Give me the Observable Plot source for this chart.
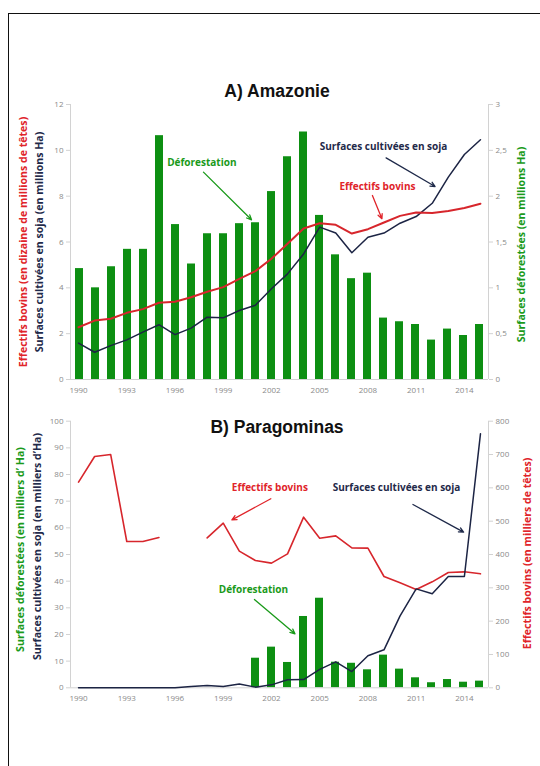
<!DOCTYPE html>
<html><head><meta charset="utf-8">
<script src="https://cdn.jsdelivr.net/npm/d3@7"></script>
<script src="https://cdn.jsdelivr.net/npm/@observablehq/plot@0.6"></script>
<style>
body{margin:0;background:#fff;}
#page{position:relative;width:540px;height:766px;overflow:hidden;background:#fff;}
#border{position:absolute;left:8px;top:13px;width:600px;height:800px;border-top:1.5px solid #111;border-left:1.5px solid #111;}
.title{position:absolute;left:0;width:554px;text-align:center;font:bold 17.5px "Liberation Sans",Arial,sans-serif;line-height:18px;color:#111;}
</style></head><body>
<div id="page"><div id="border"></div>
<div class="title" style="top:82px">A) Amazonie</div>
</div>
<script>
// ---------- DATA ----------
const years = [1990,1991,1992,1993,1994,1995,1996,1997,1998,1999,2000,2001,2002,2003,2004,2005,2006,2007,2008,2009,2010,2011,2012,2013,2014,2015];
const xTicks = [1990,1993,1996,1999,2002,2005,2008,2011,2014];

// A) Amazonie
const amzDeforest = [1.21,1.00,1.23,1.42,1.42,2.66,1.69,1.26,1.59,1.59,1.70,1.71,2.05,2.43,2.70,1.79,1.36,1.10,1.16,0.67,0.63,0.60,0.43,0.55,0.48,0.60]; // millions ha
const amzCattle = [2.28,2.57,2.65,2.91,3.07,3.35,3.39,3.59,3.83,4.03,4.39,4.73,5.27,5.92,6.59,6.82,6.75,6.37,6.56,6.85,7.14,7.29,7.27,7.35,7.48,7.67]; // x10 M heads
const amzSoy = [1.59,1.19,1.48,1.73,2.07,2.39,1.96,2.24,2.72,2.69,3.01,3.24,3.96,4.61,5.48,6.65,6.39,5.53,6.21,6.39,6.82,7.11,7.69,8.83,9.82,10.46]; // millions ha
const amzLeftTicks = [0,2,4,6,8,10,12];
const amzRightTicks = [0,0.5,1,1.5,2,2.5,3];

// B) Paragominas
const parDeforest = [null,null,null,null,null,null,null,null,null,null,null,11.1,15.25,9.5,26.75,33.6,9.6,9.2,6.75,12.25,7.0,3.75,1.9,3.1,2.1,2.5]; // thousand ha
const parCattle = [617,694,700,439,439,451,null,null,450,494,410,382,374,402,512,449,456,420,419,334,315,295,318,346,348,342]; // thousand heads
const parSoy = [0,0,0,0,0,0,0,0.5,0.9,0.5,1.4,0.25,1.1,3.0,3.1,6.9,9.75,6.1,12.0,14.25,27.0,37.1,35.25,41.75,41.75,95.25]; // thousand ha
const parLeftTicks = [0,10,20,30,40,50,60,70,80,90,100];
const parRightTicks = [0,100,200,300,400,500,600,700,800];

// ---------- STYLE ----------
const GREEN = "#0d8f12", GREEN_T = "#1a9a1a", RED = "#d7262c", RED_T = "#e0242a", NAVY = "#1c2444", NAVY_T = "#1f2a4a";
const AXIS = "#d2d2d2", TICK = "#8a8a8a";
const FONT = "'Open Sans', sans-serif";

// annotations (data coordinates: year, left-axis value)
const annA = [
  {text:"Déforestation", x:1997.67, y:9.47, x1:1997.77, y1:9.05, x2:2000.76, y2:6.97, c:GREEN_T},
  {text:"Surfaces cultivées en soja", x:2008.97, y:10.14, x1:2009.13, y1:9.67, x2:2012.18, y2:8.42, c:NAVY_T},
  {text:"Effectifs bovins", x:2008.59, y:8.39, x1:2008.28, y1:8.03, x2:2008.87, y2:7.01, c:RED_T}
];
const annB = [
  {text:"Effectifs bovins", x:2001.9, y:74.9, x1:2001.96, y1:70.9, x2:1999.54, y2:63.0, c:RED_T},
  {text:"Surfaces cultivées en soja", x:2009.78, y:74.9, x1:2010.8, y1:68.75, x2:2013.95, y2:58.4, c:NAVY_T},
  {text:"Déforestation", x:2000.88, y:36.76, x1:2000.94, y1:33.1, x2:2003.46, y2:20.25, c:GREEN_T}
];

const amz = years.map((year, i) => ({year, deforest: amzDeforest[i], cattle: amzCattle[i], soy: amzSoy[i]}));
const par = years.map((year, i) => ({year, deforest: parDeforest[i], cattle: parCattle[i], soy: parSoy[i]}));

const page = document.getElementById("page");
function add(svg, top) {
  svg.style.position = "absolute"; svg.style.left = "0px"; svg.style.top = top + "px";
  page.appendChild(svg);
}
const common = (h, mt, mb) => ({
  width: 540, height: h, marginTop: mt, marginBottom: mb, marginLeft: 70, marginRight: 52,
  style: {background: "transparent", fontFamily: FONT, fontSize: "8px", overflow: "visible"}
});
const xBand = {type: "band", domain: years, paddingInner: 0.5, paddingOuter: 0.25, axis: null};
const xLin = {type: "linear", domain: [years[0] - 0.5, years[years.length - 1] + 0.5], axis: null};
const commaFmt = d => String(d).replace(".", ",");
const annText = (ann) => Plot.text(ann, {x: "x", y: "y", text: "text", fill: "c", fontWeight: "bold", fontSize: 10, fontFamily: FONT});
const annArrow = (ann) => Plot.arrow(ann, {x1: "x1", y1: "y1", x2: "x2", y2: "y2", stroke: "c", strokeWidth: 1.3, headLength: 6, headAngle: 50});
const vTitle = (t, anchor, dx, dy, fill) => Plot.text([t], {frameAnchor: anchor, textAnchor: "middle", rotate: -90, dx, dy, fill, fontWeight: "bold", fontSize: 10.6, fontFamily: FONT});

// ---------- PANEL A ----------
add(Plot.plot({
  ...common(400, 104, 21), x: xBand, y: {domain: [0, 3], axis: null},
  marks: [
    Plot.barY(amz, {x: "year", y: "deforest", fill: GREEN}),
    Plot.axisY(amzRightTicks, {anchor: "right", tickFormat: commaFmt, tickSize: 4, tickPadding: 3, stroke: AXIS, fill: TICK, label: null})
  ]
}), 0);
add(Plot.plot({
  ...common(400, 104, 21), x: xLin, y: {domain: [0, 12], axis: null},
  marks: [
    Plot.ruleX(xLin.domain, {stroke: AXIS}),
    Plot.ruleY([0], {stroke: AXIS}),
    Plot.axisY(amzLeftTicks, {anchor: "left", tickSize: 4, tickPadding: 3, stroke: AXIS, fill: TICK, label: null}),
    Plot.axisX(xTicks, {anchor: "bottom", tickSize: 0, tickPadding: 8, fill: TICK, tickFormat: d => String(d), label: null}),
    Plot.lineY(amz, {x: "year", y: "soy", stroke: NAVY, strokeWidth: 1.5}),
    Plot.lineY(amz, {x: "year", y: "cattle", stroke: RED, strokeWidth: 2}),
    annArrow(annA), annText(annA),
    vTitle("Effectifs bovins (en dizaine de millions de têtes)", "left", -46.7, 0, RED_T),
    vTitle("Surfaces cultivées en soja (en millions Ha)", "left", -31, 0, NAVY_T),
    vTitle("Surfaces déforestées (en millions Ha)", "right", 33, 2.5, GREEN_T)
  ]
}), 0);

// ---------- PANEL B ----------
add(Plot.plot({
  ...common(310, 20.7, 22.7), x: xBand, y: {domain: [0, 100], axis: null},
  marks: [Plot.barY(par, {x: "year", y: "deforest", fill: GREEN})]
}), 400);
add(Plot.plot({
  ...common(310, 20.7, 22.7), x: xLin, y: {domain: [0, 800], axis: null},
  marks: [
    Plot.axisY(parRightTicks, {anchor: "right", tickSize: 4, tickPadding: 3, stroke: AXIS, fill: TICK, label: null}),
    Plot.lineY(par, {x: "year", y: "cattle", stroke: RED, strokeWidth: 1.6}),
    vTitle("Effectifs bovins (en milliers de têtes)", "right", 39, -1, RED_T)
  ]
}), 400);
add(Plot.plot({
  ...common(310, 20.7, 22.7), x: xLin, y: {domain: [0, 100], axis: null},
  marks: [
    Plot.ruleX(xLin.domain, {stroke: AXIS}),
    Plot.ruleY([0], {stroke: AXIS}),
    Plot.axisY(parLeftTicks, {anchor: "left", tickSize: 4, tickPadding: 3, stroke: AXIS, fill: TICK, label: null}),
    Plot.axisX(xTicks, {anchor: "bottom", tickSize: 0, tickPadding: 8, fill: TICK, tickFormat: d => String(d), label: null}),
    Plot.lineY(par, {x: "year", y: "soy", stroke: NAVY, strokeWidth: 1.5}),
    annArrow(annB), annText(annB),
    vTitle("Surfaces déforestées (en milliers d’ Ha)", "left", -50, -5, GREEN_T),
    vTitle("Surfaces cultivées en soja (en milliers d’Ha)", "left", -33.3, -8, NAVY_T)
  ]
}), 400);

const tB = document.createElement("div");
tB.className = "title"; tB.style.top = "418px"; tB.textContent = "B) Paragominas";
page.appendChild(tB);
</script>
</body></html>
